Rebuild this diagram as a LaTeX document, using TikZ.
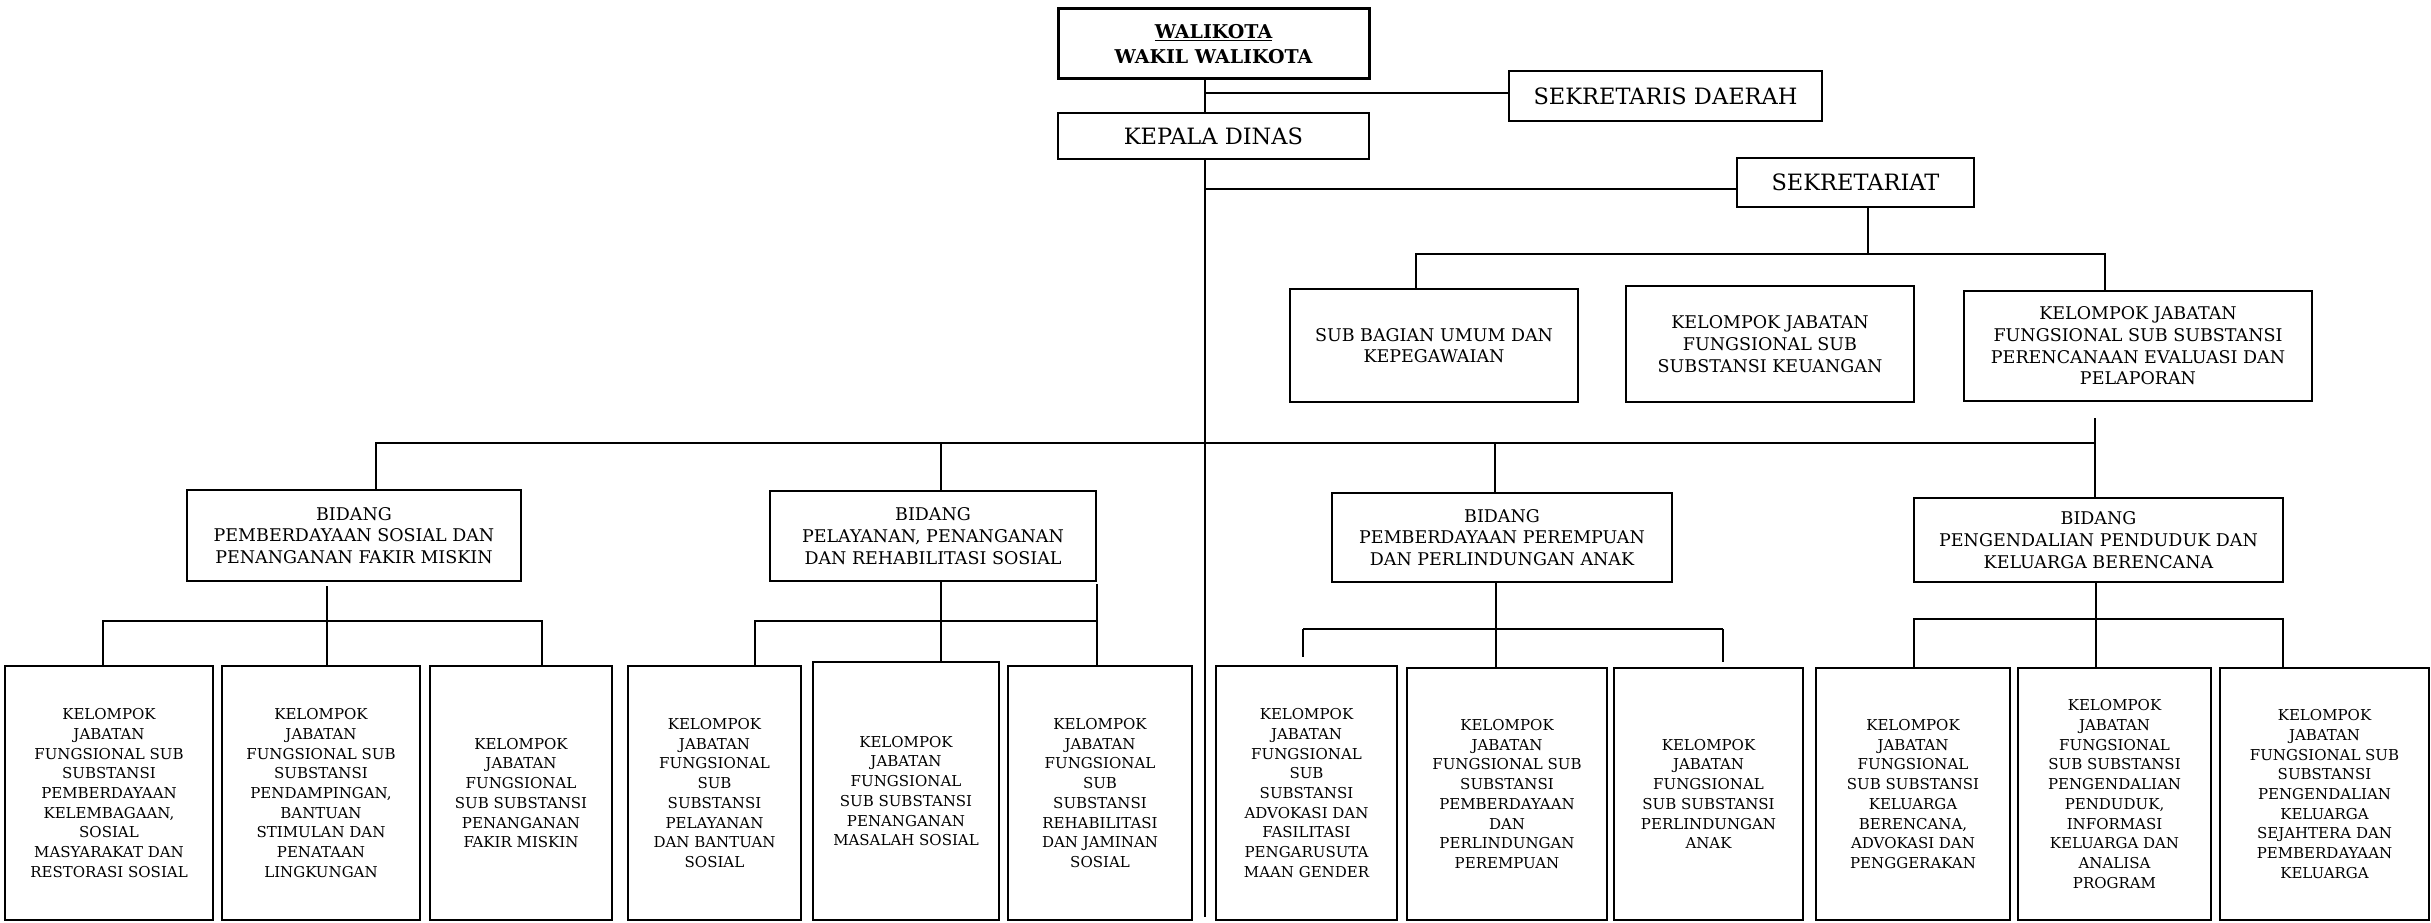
\documentclass[tikz,border=0pt]{standalone}
\usepackage{fontspec}
\setmainfont{DejaVu Serif}
\usepackage{tikz}

\begin{document}
\begin{tikzpicture}[x=1pt,y=-1pt,
 garis/.style ={-,draw=black,line width=2pt},
 pimpinan/.style ={draw=black,line width=3pt,align=center,inner sep=0pt,font=\fontsize{19}{25.7}\selectfont\bfseries},
 jabatan/.style ={draw=black,line width=2pt,align=center,inner sep=0pt,font=\fontsize{22.5}{26}\selectfont},
 bidang/.style ={draw=black,line width=2pt,align=center,inner sep=0pt,font=\fontsize{17.5}{21.7}\selectfont},
 kelompok/.style ={draw=black,line width=2pt,align=center,inner sep=0pt,font=\fontsize{15}{19.7}\selectfont}
 ]
\useasboundingbox (0,0) rectangle (2431,923);
%draw pimpinan
\node[pimpinan,minimum width=311pt,minimum height=70pt] (walikota) at (1213.5,44) {\underline{WALIKOTA}\\WAKIL WALIKOTA};
\node[jabatan,minimum width=313pt,minimum height=50pt] (sekda) at (1665.5,96) {SEKRETARIS DAERAH};
\node[jabatan,minimum width=311pt,minimum height=46pt] (kadis) at (1213.5,136) {KEPALA DINAS};
\node[jabatan,minimum width=237pt,minimum height=49pt] (sekretariat) at (1855.5,182.5) {SEKRETARIAT};
%draw sekretariat
\node[bidang,minimum width=288pt,minimum height=113pt] (subumum) at (1434,345.5) {SUB BAGIAN UMUM DAN\\KEPEGAWAIAN};
\node[bidang,minimum width=288pt,minimum height=116pt] (subkeu) at (1770,344) {KELOMPOK JABATAN\\FUNGSIONAL SUB\\SUBSTANSI KEUANGAN};
\node[bidang,minimum width=348pt,minimum height=110pt] (subren) at (2138,346) {KELOMPOK JABATAN\\FUNGSIONAL SUB SUBSTANSI\\PERENCANAAN EVALUASI DAN\\PELAPORAN};
%draw bidang
\node[bidang,minimum width=334pt,minimum height=91pt] (bid1) at (354,535.5) {BIDANG\\PEMBERDAYAAN SOSIAL DAN\\PENANGANAN FAKIR MISKIN};
\node[bidang,minimum width=326pt,minimum height=90pt] (bid2) at (933,536) {BIDANG\\PELAYANAN, PENANGANAN\\DAN REHABILITASI SOSIAL};
\node[bidang,minimum width=340pt,minimum height=89pt] (bid3) at (1502,537.5) {BIDANG\\PEMBERDAYAAN PEREMPUAN\\DAN PERLINDUNGAN ANAK};
\node[bidang,minimum width=369pt,minimum height=84pt] (bid4) at (2098.5,540) {BIDANG\\PENGENDALIAN PENDUDUK DAN\\KELUARGA BERENCANA};
%draw kelompok bidang 1
\node[kelompok,minimum width=208pt,minimum height=254pt] (c11) at (109,793) {KELOMPOK\\JABATAN\\FUNGSIONAL SUB\\SUBSTANSI\\PEMBERDAYAAN\\KELEMBAGAAN,\\SOSIAL\\MASYARAKAT DAN\\RESTORASI SOSIAL};
\node[kelompok,minimum width=198pt,minimum height=254pt] (c12) at (321,793) {KELOMPOK\\JABATAN\\FUNGSIONAL SUB\\SUBSTANSI\\PENDAMPINGAN,\\BANTUAN\\STIMULAN DAN\\PENATAAN\\LINGKUNGAN};
\node[kelompok,minimum width=182pt,minimum height=254pt] (c13) at (521,793) {KELOMPOK\\JABATAN\\FUNGSIONAL\\SUB SUBSTANSI\\PENANGANAN\\FAKIR MISKIN};
%draw kelompok bidang 2
\node[kelompok,minimum width=173pt,minimum height=254pt] (c21) at (714.5,793) {KELOMPOK\\JABATAN\\FUNGSIONAL\\SUB\\SUBSTANSI\\PELAYANAN\\DAN BANTUAN\\SOSIAL};
\node[kelompok,minimum width=186pt,minimum height=258pt] (c22) at (906,791) {KELOMPOK\\JABATAN\\FUNGSIONAL\\SUB SUBSTANSI\\PENANGANAN\\MASALAH SOSIAL};
\node[kelompok,minimum width=184pt,minimum height=254pt] (c23) at (1100,793) {KELOMPOK\\JABATAN\\FUNGSIONAL\\SUB\\SUBSTANSI\\REHABILITASI\\DAN JAMINAN\\SOSIAL};
%draw kelompok bidang 3
\node[kelompok,minimum width=181pt,minimum height=254pt] (c31) at (1306.5,793) {KELOMPOK\\JABATAN\\FUNGSIONAL\\SUB\\SUBSTANSI\\ADVOKASI DAN\\FASILITASI\\PENGARUSUTA\\MAAN GENDER};
\node[kelompok,minimum width=200pt,minimum height=252pt] (c32) at (1507,794) {KELOMPOK\\JABATAN\\FUNGSIONAL SUB\\SUBSTANSI\\PEMBERDAYAAN\\DAN\\PERLINDUNGAN\\PEREMPUAN};
\node[kelompok,minimum width=189pt,minimum height=252pt] (c33) at (1708.5,794) {KELOMPOK\\JABATAN\\FUNGSIONAL\\SUB SUBSTANSI\\PERLINDUNGAN\\ANAK};
%draw kelompok bidang 4
\node[kelompok,minimum width=194pt,minimum height=252pt] (c41) at (1913,794) {KELOMPOK\\JABATAN\\FUNGSIONAL\\SUB SUBSTANSI\\KELUARGA\\BERENCANA,\\ADVOKASI DAN\\PENGGERAKAN};
\node[kelompok,minimum width=193pt,minimum height=252pt] (c42) at (2114.5,794) {KELOMPOK\\JABATAN\\FUNGSIONAL\\SUB SUBSTANSI\\PENGENDALIAN\\PENDUDUK,\\INFORMASI\\KELUARGA DAN\\ANALISA\\PROGRAM};
\node[kelompok,minimum width=209pt,minimum height=252pt] (c43) at (2324.5,794) {KELOMPOK\\JABATAN\\FUNGSIONAL SUB\\SUBSTANSI\\PENGENDALIAN\\KELUARGA\\SEJAHTERA DAN\\PEMBERDAYAAN\\KELUARGA};
%draw garis komando
\coordinate (sp) at (1205,917);
\coordinate (sd) at (1205,93);
\coordinate (st) at (1205,189);
\draw[garis] (walikota.south -| sp) -- (kadis.north -| sp);
\draw[garis] (kadis.south -| sp) -- (sp);
\draw[garis] (sd) -- (sd -| sekda.west);
\draw[garis] (st) -- (st -| sekretariat.west);
%draw garis sekretariat
\coordinate (sbL) at (1416,254);
\coordinate (sbM) at (1868,254);
\coordinate (sbR) at (2105,254);
\draw[garis] (sbM |- sekretariat.south) -- (sbM);
\draw[garis] (sbL |- subumum.north) -- (sbL) -- (sbR) -- (sbR |- subren.north);
%draw garis bidang
\coordinate (bbL) at (376,443);
\coordinate (bb2) at (941,443);
\coordinate (bb3) at (1495,443);
\coordinate (bbR) at (2095,418);
\draw[garis] (bbL |- bid1.north) -- (bbL) -- (bbR |- bbL);
\draw[garis] (bb2) -- (bb2 |- bid2.north);
\draw[garis] (bb3) -- (bb3 |- bid3.north);
\draw[garis] (bbR) -- (bbR |- bid4.north);
%draw garis kelompok 1
\coordinate (g1L) at (103,621);
\coordinate (g1M) at (327,621);
\coordinate (g1R) at (542,621);
\draw[garis,shorten <=4pt] (g1M |- bid1.south) -- (g1M |- c12.north);
\draw[garis] (g1L |- c11.north) -- (g1L) -- (g1R) -- (g1R |- c13.north);
%draw garis kelompok 2
\coordinate (g2L) at (755,621);
\coordinate (g2M) at (941,621);
\coordinate (g2R) at (1097,621);
\draw[garis] (g2M |- bid2.south) -- (g2M |- c22.north);
\draw[garis,shorten <=2pt] (g2R |- bid2.south) -- (g2R |- c23.north);
\draw[garis] (g2L |- c21.north) -- (g2L) -- (g2R);
%draw garis kelompok 3
\coordinate (g3L) at (1303,629);
\coordinate (g3M) at (1496,629);
\coordinate (g3R) at (1723,629);
\draw[garis] (g3M |- bid3.south) -- (g3M |- c32.north);
\draw[garis,shorten >=8pt] (g3L) -- (g3L |- c31.north);
\draw[garis,shorten >=5pt] (g3R) -- (g3R |- c33.north);
\draw[garis] (g3L) -- (g3R);
%draw garis kelompok 4
\coordinate (g4L) at (1914,619);
\coordinate (g4M) at (2096,619);
\coordinate (g4R) at (2283,619);
\draw[garis] (g4M |- bid4.south) -- (g4M |- c42.north);
\draw[garis] (g4L |- c41.north) -- (g4L) -- (g4R) -- (g4R |- c43.north);
\end{tikzpicture}
\end{document}
